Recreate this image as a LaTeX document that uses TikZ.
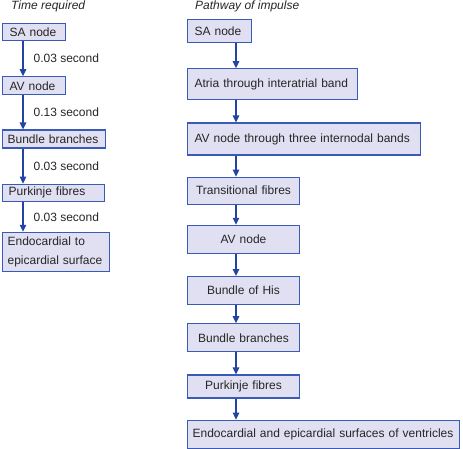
\documentclass[tikz,border=0pt]{standalone}
\usepackage{fontspec}
\setmainfont{Liberation Sans}
\usetikzlibrary{positioning, arrows.meta}
\definecolor{boxline}{HTML}{3A5AB8}
\definecolor{boxfill}{HTML}{E0E0F2}
\definecolor{arrline}{HTML}{2444A2}
\definecolor{txt}{HTML}{262626}
\tikzset{
        box/.style={draw=boxline, fill=boxfill, line width=1.2pt, inner xsep=6pt, inner ysep=0pt, align=left, text=txt, font=\fontsize{12}{19}\selectfont}, % every box of both columns
        mid/.style={align=center, inner xsep=5.9pt, text width=100pt}, % centred text in the short boxes
        arr/.style={draw=arrline, line width=1.3pt, -{Triangle[length=7pt,width=6.5pt]}}, % the down arrows
        lbl/.style={inner sep=0pt, text=txt, font=\fontsize{12}{14}\selectfont}, % the times
        head/.style={inner sep=0pt, anchor=base west, text=txt, font=\fontsize{12}{14}\itshape}, % column titles
    }
\begin{document}
\begin{tikzpicture}
    \useasboundingbox (0,0) rectangle (463pt,-448pt);
    \node[head] (t0) at (11pt,-9pt) {Time required};
    \node[head] (t1) at (195pt,-9pt) {Pathway of impulse};
    % time required
    \node[box, anchor=north west, inner xsep=7pt, text width=49pt, minimum height=17pt] (l0) at (2pt,-23pt) {SA node};
    \node[box, below right=35pt and 0pt of l0.south west, inner xsep=7pt, text width=49pt, minimum height=18pt] (l1) {AV node};
    \node[box, below right=34pt and 0pt of l1.south west, inner xsep=5pt, text width=93pt, minimum height=18pt] (l2) {Bundle branches};
    \node[box, below right=35pt and 0pt of l2.south west, text width=90pt, minimum height=17pt] (l3) {Purkinje fibres};
    \node[box, below right=30pt and 0pt of l3.south west, inner xsep=5pt, text width=97pt, minimum height=39pt] (l4) {Endocardial to\\epicardial surface};
    % pathway of impulse
    \node[box, anchor=north west, inner xsep=7pt, text width=50pt, minimum height=23pt] (r0) at (187pt,-19pt) {SA node};
    \node[box, below right=25pt and 0pt of r0.south west, inner xsep=7pt, text width=156pt, minimum height=31pt] (r1) {Atria through interatrial band};
    \node[box, below right=22pt and 0pt of r1.south west, inner xsep=7pt, text width=219pt, minimum height=32pt] (r2) {AV node through three internodal bands};
    \node[box, mid, below right=21pt and 0pt of r2.south west, minimum height=27pt] (r3) {Transitional fibres};
    \node[box, mid, below right=20pt and 0pt of r3.south west, minimum height=28pt] (r4) {AV node};
    \node[box, mid, below right=22pt and 0pt of r4.south west, minimum height=28pt] (r5) {Bundle of His};
    \node[box, mid, below right=18pt and 0pt of r5.south west, minimum height=28pt] (r6) {Bundle branches};
    \node[box, mid, below right=22pt and 0pt of r6.south west, minimum height=23pt] (r7) {Purkinje fibres};
    \node[box, below right=21pt and 0pt of r7.south west, inner xsep=5pt, text width=262pt, minimum height=28pt] (r8) {Endocardial and epicardial surfaces of ventricles};
    \coordinate (la) at (23pt,0);
    \coordinate (ra) at (236pt,0);
    \draw[arr] (l0.south -| la) -- node[lbl, right=10pt] {0.03 second} (l1.north -| la);
    \draw[arr] (l1.south -| la) -- node[lbl, right=10pt] {0.13 second} (l2.north -| la);
    \draw[arr] (l2.south -| la) -- node[lbl, right=10pt] {0.03 second} (l3.north -| la);
    \draw[arr] (l3.south -| la) -- node[lbl, right=10pt] {0.03 second} (l4.north -| la);
    \foreach \a/\b in {r0/r1, r1/r2, r2/r3, r3/r4, r4/r5, r5/r6, r6/r7, r7/r8}
      \draw[arr] (\a.south -| ra) -- (\b.north -| ra);
\end{tikzpicture}
\end{document}
